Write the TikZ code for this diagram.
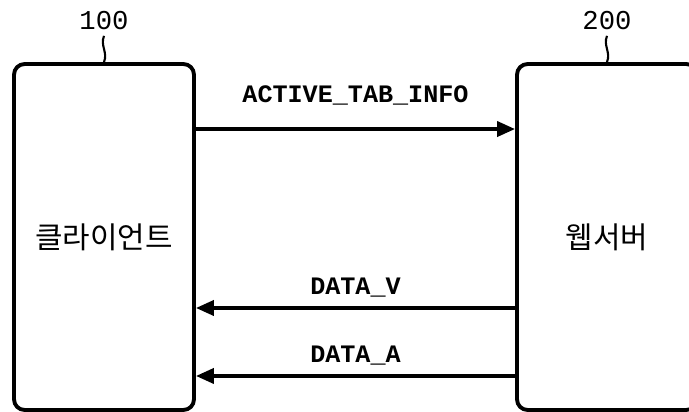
\documentclass[tikz,border=0pt]{standalone}
\usepackage{fontspec}
\setmonofont{Liberation Mono}
\newfontfamily\krfont{Noto Sans CJK KR}
\usetikzlibrary{arrows.meta,positioning}

\begin{document}
\begin{tikzpicture}[x=0.02cm,y=-0.02cm,
  unitbox/.style={draw,line width=2.2pt,rounded corners=6pt,minimum width=3.6cm,minimum height=6.92cm,
    font=\fontsize{17}{20}\selectfont\krfont},
  refnum/.style={font=\fontsize{15.5}{18}\selectfont\ttfamily,inner sep=1pt},
  msg/.style={font=\fontsize{14.3}{16}\selectfont\ttfamily\bfseries,anchor=base,inner sep=0pt},
  arr/.style={-{Triangle[length=3.6mm,width=3mm]},line width=2.1pt},
  lead/.style={line width=1.2pt}
]
  \useasboundingbox (0,0) rectangle (689,412);
  \clip (0,0) rectangle (689,412);

  % Client
  \node[unitbox] (client) at (104,237) {클라이언트};
  \node[refnum] (n100) at (104,21) {100};
  \draw[lead] ([yshift=-2pt]n100.south) .. controls +(-4,10) and +(4,-10) .. (client.north);

  % Web server
  \node[unitbox] (server) at (607,237) {웹서버};
  \node[refnum] (n200) at (607,21) {200};
  \draw[lead] ([yshift=-2pt]n200.south) .. controls +(-4,10) and +(4,-10) .. (server.north);

  % Messages
  \draw[arr] ([yshift=2.16cm]client.east) -- ([yshift=2.16cm]server.west)
    node[msg,midway,yshift=0.54cm] {ACTIVE\_TAB\_INFO};
  \draw[arr] ([yshift=-1.42cm]server.west) -- ([yshift=-1.42cm]client.east)
    node[msg,midway,yshift=0.26cm] {DATA\_V};
  \draw[arr] ([yshift=-2.78cm]server.west) -- ([yshift=-2.78cm]client.east)
    node[msg,midway,yshift=0.26cm] {DATA\_A};
\end{tikzpicture}
\end{document}
